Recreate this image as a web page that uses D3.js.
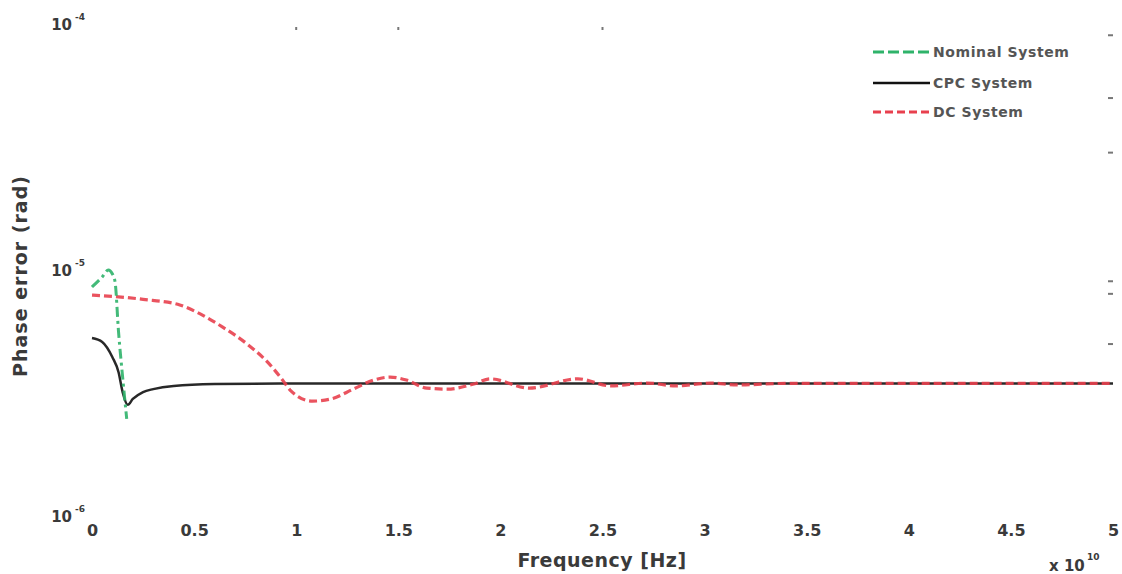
<!DOCTYPE html>
<html>
<head>
<meta charset="utf-8">
<script src="https://cdn.jsdelivr.net/npm/d3@7"></script>
<style>
    body { margin: 0; background: #fff; }
    text { font-family: 'DejaVu Sans', sans-serif; font-weight: bold; fill: #3a3a3a; }
    .tick_l { font-size: 15px; }
    .leg { font-size: 14px; fill: #555; letter-spacing: 0.6px; }
</style>
</head>
<body>
<script>
// data (frequency in units of 1e10 Hz, phase error in rad)
var nominalF = [0, 0.05, 0.08, 0.1, 0.113, 0.13, 0.15, 0.17];
var nominalV = [8.53e-6, 9.37e-6, 1.0e-5, 9.63e-6, 8.94e-6, 5.6e-6, 3.67e-6, 2.48e-6];

var cpcF = [0, 0.05, 0.1, 0.13, 0.15, 0.175, 0.2, 0.25, 0.3, 0.4, 0.6, 1.0, 5.0];
var cpcV = [5.29e-6, 5.1e-6, 4.42e-6, 3.84e-6, 3.19e-6, 2.83e-6, 2.99e-6, 3.19e-6, 3.28e-6, 3.38e-6, 3.44e-6, 3.46e-6, 3.46e-6];

var dcF = [0, 0.25, 0.43, 0.53, 0.64, 0.76, 0.86, 0.94, 0.97, 1.08, 1.17, 1.28, 1.38, 1.46, 1.54, 1.64, 1.74, 1.87,
    1.95, 2.14, 2.38, 2.54, 2.72, 2.86, 3.03, 3.16, 3.4, 5.0];
var dcV = [7.91e-6, 7.6e-6, 7.21e-6, 6.63e-6, 5.86e-6, 5.0e-6, 4.22e-6, 3.51e-6, 3.25e-6, 2.93e-6, 2.99e-6, 3.28e-6,
    3.57e-6, 3.67e-6, 3.57e-6, 3.31e-6, 3.28e-6, 3.44e-6, 3.61e-6, 3.31e-6, 3.61e-6, 3.38e-6, 3.47e-6, 3.38e-6,
    3.47e-6, 3.41e-6, 3.46e-6, 3.46e-6];

var xTicks = [0, 0.5, 1, 1.5, 2, 2.5, 3, 3.5, 4, 4.5, 5];
var xTickLabels = ['0', '0.5', '1', '1.5', '2', '2.5', '3', '3.5', '4', '4.5', '5'];
var yTicks = [1e-6, 1e-5, 1e-4];
var yTickExp = ['-6', '-5', '-4'];
// the few tick marks that survive in the picture
var topMarks = [1, 1.5, 2.5];
var rightMarks = [9e-5, 5e-5, 3e-5, 9e-6, 8e-6, 5e-6];

var legendNames = ['Nominal System', 'CPC System', 'DC System'];

var canvas = d3.select('body')
    .append('svg')
    .attr('width', 1122)
    .attr('height', 574)

var xScale = d3.scaleLinear()
    .domain([0, 5])
    .range([92, 1113])

var yScale = d3.scaleLog()
    .domain([1e-6, 1e-4])
    .range([516, 24])

// x tick labels
var axisB = d3.axisBottom()
    .scale(xScale)
    .tickValues(xTicks)
    .tickSize(0)
    .tickFormat(function (d, i) { return xTickLabels[i]; })

var gB = canvas.append('g')
    .attr('transform', 'translate(0,522)')
    .call(axisB)
gB.select('.domain').remove()
gB.selectAll('text')
    .attr('fill', '#3a3a3a')
    .style('font-size', '16px')
    .style('font-family', "'DejaVu Sans', sans-serif")
    .style('font-weight', 'bold')

// y tick labels 10^n
canvas.selectAll('.ylab')
    .data(yTicks)
    .enter()
    .append('text')
    .attr('class', 'tick_l')
    .attr('text-anchor', 'end')
    .attr('x', 72)
    .attr('y', function (d) { return yScale(d) + 6; })
    .text('10')
canvas.selectAll('.yexp')
    .data(yTicks)
    .enter()
    .append('text')
    .style('font-size', '9px')
    .attr('x', 75)
    .attr('y', function (d) { return yScale(d) - 4; })
    .text(function (d, i) { return yTickExp[i]; })

// tick marks
canvas.selectAll('.tmark')
    .data(topMarks)
    .enter()
    .append('line')
    .attr('x1', function (d) { return xScale(d); })
    .attr('x2', function (d) { return xScale(d); })
    .attr('y1', 27)
    .attr('y2', 30)
    .attr('stroke', '#777')
    .attr('stroke-width', 2)

canvas.selectAll('.rmark')
    .data(rightMarks)
    .enter()
    .append('line')
    .attr('x1', 1108)
    .attr('x2', 1113)
    .attr('y1', function (d) { return yScale(d); })
    .attr('y2', function (d) { return yScale(d); })
    .attr('stroke', '#777')
    .attr('stroke-width', 2)

// lines
var line = d3.line()
    .x(function (d) { return xScale(d[0]); })
    .y(function (d) { return yScale(d[1]); })
    .curve(d3.curveMonotoneX)

var series = [
    { name: legendNames[0], pts: d3.zip(nominalF, nominalV), color: '#2fb36a', dash: '10,4,3,4', w: 3 },
    { name: legendNames[1], pts: d3.zip(cpcF, cpcV), color: '#111', dash: null, w: 2.5 },
    { name: legendNames[2], pts: d3.zip(dcF, dcV), color: '#e8404e', dash: '8,4', w: 3.2 }
]

// cpc first, then dc, nominal on top
var order = [1, 2, 0];
order.forEach(function (k) {
    var s = series[k];
    canvas.append('path')
        .datum(s.pts)
        .attr('d', line)
        .attr('fill', 'none')
        .attr('stroke', s.color)
        .attr('stroke-width', s.w)
        .attr('stroke-dasharray', s.dash)
        .attr('stroke-opacity', 0.9)
});

// legend
var leg = canvas.selectAll('.legend')
    .data(series)
    .enter()
    .append('g')
    .attr('transform', function (d, i) { return 'translate(873,' + [52, 83, 112][i] + ')'; })
leg.append('line')
    .attr('x1', 0)
    .attr('x2', 57)
    .attr('stroke', function (d) { return d.color; })
    .attr('stroke-width', function (d) { return d.w; })
    .attr('stroke-dasharray', function (d, i) { return i == 0 ? '11,4' : d.dash; })
leg.append('text')
    .attr('class', 'leg')
    .attr('x', 60)
    .attr('y', 5)
    .text(function (d) { return d.name; })

// titles
canvas.append('text')
    .text('Frequency [Hz]')
    .attr('text-anchor', 'middle')
    .style('font-size', '19px')
    .style('letter-spacing', '0.5px')
    .attr('x', 602)
    .attr('y', 567)

canvas.append('text')
    .text('Phase error (rad)')
    .attr('text-anchor', 'middle')
    .style('font-size', '19px')
    .style('letter-spacing', '1px')
    .attr('transform', 'translate(27,276) rotate(-90)')

canvas.append('text')
    .text('x 10')
    .style('font-size', '15px')
    .attr('x', 1049)
    .attr('y', 571)
canvas.append('text')
    .text('10')
    .style('font-size', '9px')
    .attr('x', 1087)
    .attr('y', 560)
</script>
</body>
</html>
